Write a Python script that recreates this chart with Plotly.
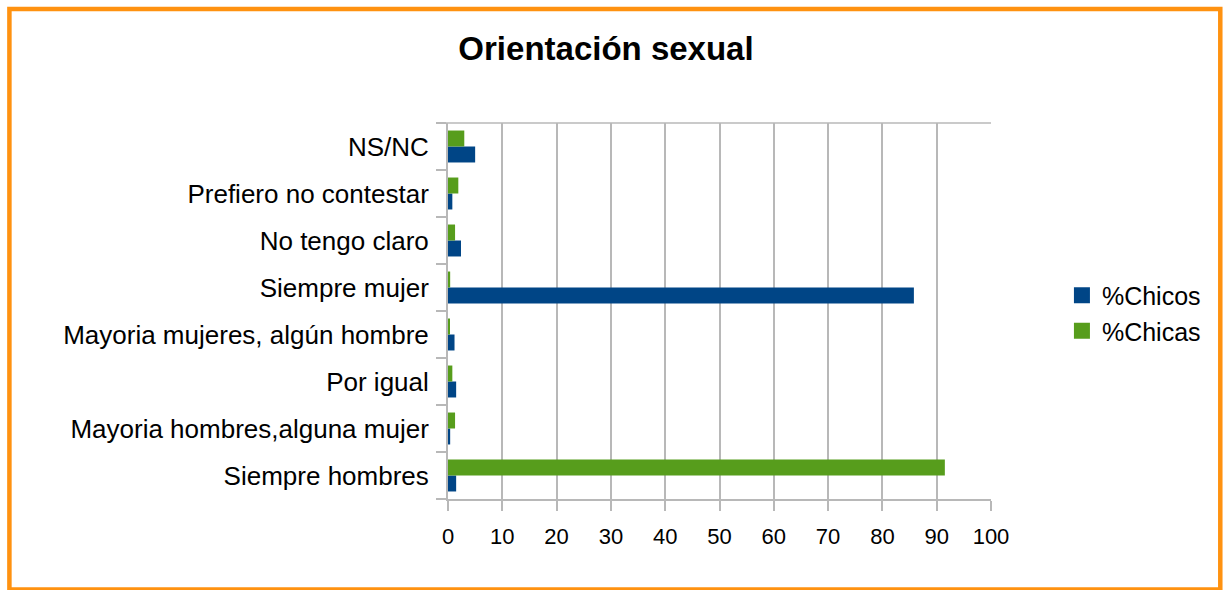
import plotly.graph_objects as go

# Survey categories, listed top to bottom as shown on the chart
categorias = [
    "NS/NC",
    "Prefiero no contestar",
    "No tengo claro",
    "Siempre mujer",
    "Mayoria mujeres, algún hombre",
    "Por igual",
    "Mayoria hombres,alguna mujer",
    "Siempre hombres",
]
pct_chicos = [5.0, 0.8, 2.4, 85.8, 1.2, 1.5, 0.4, 1.5]
pct_chicas = [3.0, 1.9, 1.3, 0.4, 0.2, 0.8, 1.3, 91.5]
x_ticks = [0, 10, 20, 30, 40, 50, 60, 70, 80, 90, 100]

W, H = 1223, 590
ML, MR, MT, MB = 447.5, 232, 123, 91
PW, PH = W - ML - MR, H - MT - MB

AZUL = "#004586"
VERDE = "#579d1c"
GRIS = "#b8b8b8"
NARANJA = "#ff9210"
FONT = "Liberation Sans, Arial, sans-serif"


def px_x(p):
    return (p - ML) / PW


def px_y(p):
    return (H - MB - p) / PH


fig = go.Figure()
fig.add_trace(go.Bar(y=categorias, x=pct_chicos, orientation="h", name="%Chicos",
                     marker=dict(color=AZUL, line=dict(width=0)), showlegend=False))
fig.add_trace(go.Bar(y=categorias, x=pct_chicas, orientation="h", name="%Chicas",
                     marker=dict(color=VERDE, line=dict(width=0)), showlegend=False))

# square legend keys
for nombre, color in (("%Chicos", AZUL), ("%Chicas", VERDE)):
    fig.add_trace(go.Scatter(x=[None], y=[None], mode="markers", name=nombre,
                             marker=dict(symbol="square", size=18, color=color,
                                         line=dict(width=0))))

fig.update_layout(
    width=W, height=H,
    margin=dict(l=ML, r=MR, t=MT, b=MB, pad=0),
    paper_bgcolor="white", plot_bgcolor="white",
    barmode="group", bargap=0.32, bargroupgap=0,
    font=dict(family=FONT, color="black"),
    title=dict(text="<b>Orientación sexual</b>", x=606 / W, xanchor="center",
               y=1 - 48 / H, yanchor="middle", yref="container",
               font=dict(size=33, family=FONT, color="black")),
    legend=dict(x=px_x(1062), xanchor="left", y=px_y(313), yanchor="middle",
                font=dict(size=25, family=FONT), itemwidth=30,
                bgcolor="rgba(0,0,0,0)", tracegroupgap=0),
    xaxis=dict(range=[0, 100], tickvals=x_ticks, ticktext=[str(v) for v in x_ticks],
               showgrid=True, gridcolor=GRIS, gridwidth=1.5,
               showline=True, linecolor=GRIS, linewidth=2,
               ticks="outside", ticklen=10, tickcolor=GRIS, tickwidth=1.5,
               ticklabelstandoff=7,
               tickfont=dict(size=22, family=FONT), zeroline=False, fixedrange=True),
    yaxis=dict(categoryorder="array", categoryarray=list(reversed(categorias)),
               showgrid=False, showline=True, linecolor=GRIS, linewidth=2,
               ticks="outside", tickson="boundaries", ticklen=10, tickcolor=GRIS,
               tickwidth=1.5, ticklabelstandoff=12,
               tickfont=dict(size=26, family=FONT), fixedrange=True),
    shapes=[
        # top edge of the plotting area
        dict(type="line", xref="paper", yref="paper", x0=px_x(437), x1=1, y0=1, y1=1,
             line=dict(color=GRIS, width=1.5)),
        # orange frame around the whole chart
        dict(type="rect", xref="paper", yref="paper",
             x0=px_x(8.5), x1=px_x(1220.5), y0=px_y(589.5), y1=px_y(9),
             line=dict(color=NARANJA, width=4.5), fillcolor="rgba(0,0,0,0)", layer="above"),
    ],
)

fig.write_html("out.html")
